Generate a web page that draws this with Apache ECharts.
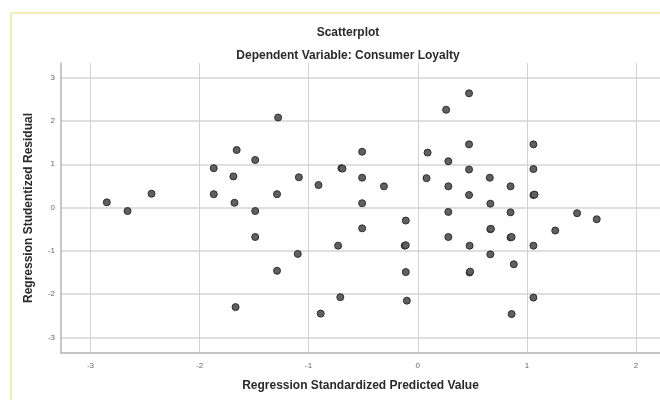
<!DOCTYPE html>
<html>
<head>
<meta charset="utf-8">
<script src="https://cdn.jsdelivr.net/npm/echarts@6/dist/echarts.min.js"></script>
<style>
html,body{margin:0;padding:0;background:#fff;}
#chart{width:660px;height:400px;}
</style>
</head>
<body>
<div id="chart"></div>
<script>
const titleText = "Scatterplot";
const subtitleText = "Dependent Variable: Consumer Loyalty";
const xAxisTitle = "Regression Standardized Predicted Value";
const yAxisTitle = "Regression Studentized Residual";
const xTicks = [-3, -2, -1, 0, 1, 2];
const yTicks = [-3, -2, -1, 0, 1, 2, 3];

const predicted = [
  -2.85, -2.66, -2.44, -1.87, -1.87, -1.69, -1.66, -1.68, -1.67, -1.49,
  -1.49, -1.49, -1.28, -1.29, -1.29, -1.09, -1.10, -0.91, -0.89, -0.70,
  -0.69, -0.73, -0.71, -0.51, -0.51, -0.51, -0.51, -0.31, -0.11, -0.12,
  -0.11, -0.11, -0.10, 0.09, 0.08, 0.26, 0.28, 0.28, 0.28, 0.28,
  0.47, 0.47, 0.47, 0.47, 0.475, 0.475, 0.48, 0.66, 0.665, 0.665,
  0.67, 0.665, 0.85, 0.85, 0.85, 0.86, 0.88, 0.86, 1.06, 1.06,
  1.06, 1.07, 1.06, 1.06, 1.26, 1.46, 1.64
];
const residual = [
  0.12, -0.08, 0.32, 0.91, 0.31, 0.72, 1.33, 0.11, -2.30, 1.10,
  -0.08, -0.68, 2.08, 0.31, -1.46, 0.70, -1.07, 0.52, -2.45, 0.91,
  0.90, -0.88, -2.07, 1.29, 0.69, 0.10, -0.48, 0.49, -0.30, -0.88,
  -0.87, -1.49, -2.15, 1.27, 0.68, 2.26, 1.07, 0.49, -0.10, -0.68,
  2.64, 1.46, 0.88, 0.29, -0.88, -1.50, -1.48, 0.69, 0.09, -0.50,
  -0.49, -1.08, 0.49, -0.11, -0.69, -0.68, -1.31, -2.46, 1.46, 0.89,
  0.29, 0.30, -0.88, -2.08, -0.53, -0.13, -0.27
];

const points = predicted.map((x, i) => [x, residual[i]]);

const chart = echarts.init(document.getElementById('chart'), null, {renderer: 'canvas'});
const fontFamily = '"Liberation Sans", Arial, sans-serif';

chart.setOption({
  animation: false,
  backgroundColor: '#ffffff',
  textStyle: {fontFamily: fontFamily},
  graphic: [{
    type: 'rect',
    shape: {x: 11, y: 13, width: 700, height: 500},
    style: {fill: 'none', stroke: '#f4eeb4', lineWidth: 2},
    silent: true,
    z: -10
  }],
  title: [{
    text: titleText,
    left: 343, top: 22, textAlign: 'center',
    textStyle: {fontSize: 12, fontWeight: 'bold', color: '#2a2a2a', fontFamily: fontFamily}
  }, {
    text: subtitleText,
    left: 343, top: 45, textAlign: 'center',
    textStyle: {fontSize: 12, fontWeight: 'bold', color: '#2a2a2a', fontFamily: fontFamily}
  }],
  grid: {left: 61, top: 63, right: 0, bottom: 47, containLabel: false},
  xAxis: {
    type: 'value',
    min: -3.27, max: 2.22,
    name: xAxisTitle,
    nameLocation: 'middle',
    nameGap: 27,
    nameTextStyle: {fontSize: 12, fontWeight: 'bold', color: '#2a2a2a', fontFamily: fontFamily},
    axisLine: {show: true, onZero: false, lineStyle: {color: '#b4b4b4', width: 1.5}},
    axisTick: {show: false, customValues: xTicks},
    axisLabel: {customValues: xTicks, fontSize: 8, color: '#666', margin: 9,
      formatter: v => String(v)},
    splitLine: {show: true, lineStyle: {color: '#d2d2d2', width: 1}}
  },
  yAxis: {
    type: 'value',
    min: -3.36, max: 3.34,
    name: yAxisTitle,
    nameLocation: 'middle',
    nameGap: 26,
    nameRotate: 90,
    nameTextStyle: {fontSize: 12, fontWeight: 'bold', color: '#2a2a2a', fontFamily: fontFamily},
    axisLine: {show: true, onZero: false, lineStyle: {color: '#b4b4b4', width: 1.5}},
    axisTick: {show: false, customValues: yTicks},
    axisLabel: {customValues: yTicks, fontSize: 8, color: '#666', margin: 6,
      formatter: v => String(v)},
    splitLine: {show: true, lineStyle: {color: '#d4d4d4', width: 1.5}}
  },
  series: [{
    type: 'scatter',
    data: points,
    symbol: 'circle',
    symbolSize: 7,
    itemStyle: {color: '#606060', borderColor: '#2e2e2e', borderWidth: 1, opacity: 1}
  }]
});
</script>
</body>
</html>
